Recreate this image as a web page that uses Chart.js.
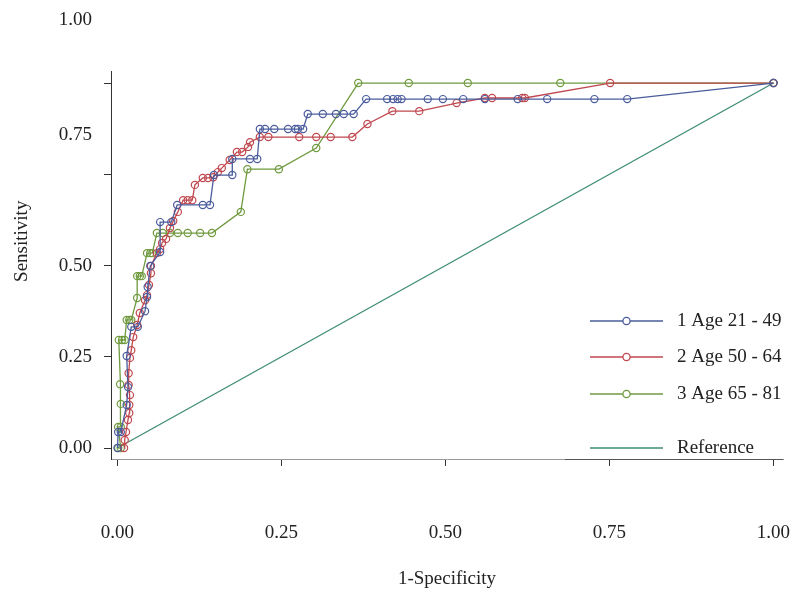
<!DOCTYPE html>
<html>
<head>
<meta charset="utf-8">
<script src="https://cdn.jsdelivr.net/npm/chart.js@4.4.1/dist/chart.umd.min.js"></script>
<style>
  html, body { margin: 0; padding: 0; background: #fff; }
  #wrap { width: 800px; height: 596px; }
</style>
</head>
<body>
<div id="wrap"><canvas id="roc"></canvas></div>
<script>
// tick values and labels
const xTicks = [0, 0.25, 0.5, 0.75, 1];
const yTicks = [0, 0.25, 0.5, 0.75, 1];
const seriesNames = ['1 Age 21 - 49', '2 Age 50 - 64', '3 Age 65 - 81', 'Reference'];

// group 1: age 21 - 49
const blueX = [0, 0.001, 0.005, 0.014, 0.016, 0.014, 0.021, 0.031, 0.042, 0.045, 0.046, 0.050, 0.065, 0.065,
  0.082, 0.091, 0.130, 0.141, 0.147, 0.175, 0.175, 0.202, 0.213, 0.217, 0.225, 0.239, 0.260, 0.271, 0.275,
  0.283, 0.290, 0.313, 0.333, 0.345, 0.360, 0.379, 0.411, 0.420, 0.427, 0.433, 0.473, 0.496, 0.527, 0.560,
  0.610, 0.655, 0.727, 0.777, 1.0];
const blueY = [0, 0.044, 0.044, 0.118, 0.167, 0.252, 0.332, 0.332, 0.375, 0.414, 0.441, 0.499, 0.537, 0.619,
  0.619, 0.666, 0.666, 0.666, 0.748, 0.748, 0.792, 0.792, 0.792, 0.874, 0.874, 0.874, 0.874, 0.874, 0.874,
  0.874, 0.915, 0.915, 0.915, 0.915, 0.915, 0.956, 0.956, 0.956, 0.956, 0.956, 0.956, 0.956, 0.956, 0.956,
  0.956, 0.956, 0.956, 0.956, 1.0];

// group 2: age 50 - 64
const redX = [0.010, 0.011, 0.013, 0.016, 0.018, 0.018, 0.019, 0.017, 0.017, 0.019, 0.021, 0.024, 0.030, 0.034,
  0.042, 0.045, 0.048, 0.051, 0.051, 0.060, 0.065, 0.068, 0.074, 0.080, 0.085, 0.092, 0.100, 0.107, 0.114,
  0.118, 0.130, 0.138, 0.146, 0.153, 0.159, 0.171, 0.182, 0.190, 0.199, 0.202, 0.217, 0.230, 0.277, 0.303,
  0.325, 0.358, 0.381, 0.419, 0.460, 0.517, 0.560, 0.571, 0.617, 0.621, 0.751, 1.0];
const redY = [0, 0.022, 0.044, 0.077, 0.096, 0.118, 0.145, 0.173, 0.205, 0.247, 0.268, 0.304, 0.337, 0.370,
  0.405, 0.419, 0.447, 0.479, 0.499, 0.534, 0.545, 0.562, 0.573, 0.603, 0.622, 0.647, 0.679, 0.679, 0.679,
  0.721, 0.740, 0.740, 0.742, 0.756, 0.767, 0.789, 0.811, 0.811, 0.825, 0.838, 0.852, 0.852, 0.852, 0.852,
  0.852, 0.852, 0.888, 0.923, 0.923, 0.945, 0.959, 0.959, 0.959, 0.959, 1.0, 1.0];

// group 3: age 65 - 81
const greenX = [0.001, 0.005, 0.001, 0.005, 0.005, 0.004, 0.002, 0.007, 0.011, 0.014, 0.018, 0.021, 0.030, 0.030,
  0.034, 0.037, 0.045, 0.050, 0.053, 0.060, 0.069, 0.080, 0.092, 0.107, 0.126, 0.144, 0.188, 0.198, 0.246,
  0.303, 0.367, 0.444, 0.534, 0.675, 1.0];
const greenY = [0, 0, 0.058, 0.058, 0.121, 0.175, 0.296, 0.296, 0.296, 0.351, 0.351, 0.351, 0.411, 0.471, 0.471,
  0.471, 0.534, 0.534, 0.534, 0.589, 0.589, 0.589, 0.589, 0.589, 0.589, 0.589, 0.647, 0.764, 0.764, 0.822,
  1.0, 1.0, 1.0, 1.0, 1.0];

// diagonal
const refX = [0, 1];
const refY = [0, 1];

const serif = '"Liberation Serif", "Times New Roman", serif';
const colors = ['#4a5c9c', '#c0484f', '#6f9a3e', '#3f8c72'];

function pts(xs, ys) {
  return xs.map((x, i) => ({ x: x, y: ys[i] }));
}

function rocSet(label, xs, ys, color) {
  return {
    label: label,
    data: pts(xs, ys),
    showLine: true,
    borderColor: color,
    borderWidth: 1.3,
    pointRadius: 3.6,
    pointBorderWidth: 1.2,
    pointBorderColor: color,
    pointBackgroundColor: 'rgba(255,255,255,0)',
    tension: 0
  };
}

// y labels 0.75 and 1.00 sit higher than their ticks in the original
const shiftedLabels = {
  id: 'shiftedLabels',
  afterDraw(chart, args, opts) {
    const y = chart.scales.y;
    const ctx = chart.ctx;
    ctx.save();
    ctx.font = '19px ' + serif;
    ctx.fillStyle = '#222';
    ctx.textAlign = 'right';
    ctx.textBaseline = 'middle';
    opts.items.forEach(it => {
      ctx.fillText(it.text, y.right - 19, y.getPixelForValue(it.at));
    });
    ctx.restore();
  }
};

const sideLegend = {
  id: 'sideLegend',
  afterDraw(chart, args, opts) {
    const ctx = chart.ctx;
    ctx.save();
    ctx.font = '19px ' + serif;
    ctx.textBaseline = 'middle';
    ctx.textAlign = 'left';
    chart.data.datasets.forEach((ds, i) => {
      const yy = opts.rows[i];
      ctx.strokeStyle = ds.borderColor;
      ctx.lineWidth = 1.3;
      ctx.beginPath();
      ctx.moveTo(opts.lineFrom, yy);
      ctx.lineTo(opts.lineTo, yy);
      ctx.stroke();
      if (ds.pointRadius > 0) {
        ctx.fillStyle = '#fff';
        ctx.beginPath();
        ctx.arc((opts.lineFrom + opts.lineTo) / 2, yy, 3.6, 0, Math.PI * 2);
        ctx.fill();
        ctx.stroke();
      }
      ctx.fillStyle = '#222';
      ctx.fillText(ds.label, opts.textX, yy);
    });
    // bottom edge of the legend box
    ctx.strokeStyle = '#555';
    ctx.lineWidth = 1;
    ctx.beginPath();
    ctx.moveTo(opts.boxLeft, chart.chartArea.bottom + 0.5);
    ctx.lineTo(chart.chartArea.right, chart.chartArea.bottom + 0.5);
    ctx.stroke();
    ctx.restore();
  }
};

const ctx = document.getElementById('roc').getContext('2d');
new Chart(ctx, {
  type: 'scatter',
  data: {
    datasets: [
      rocSet(seriesNames[0], blueX, blueY, colors[0]),
      rocSet(seriesNames[1], redX, redY, colors[1]),
      rocSet(seriesNames[2], greenX, greenY, colors[2]),
      {
        label: seriesNames[3],
        data: pts(refX, refY),
        showLine: true,
        borderColor: colors[3],
        borderWidth: 1.3,
        pointRadius: 0
      }
    ]
  },
  options: {
    responsive: true,
    maintainAspectRatio: false,
    animation: false,
    layout: { padding: { top: 71, right: 17, bottom: 0, left: 0 } },
    plugins: {
      legend: { display: false },
      tooltip: { enabled: false },
      shiftedLabels: {
        items: [{ text: '0.75', at: 0.858 }, { text: '1.00', at: 1.173 }]
      },
      sideLegend: { rows: [321, 357, 394, 448], lineFrom: 590, lineTo: 663, textX: 677, boxLeft: 565 }
    },
    scales: {
      x: {
        type: 'linear',
        min: -0.0099,
        max: 1.0145,
        afterBuildTicks: s => { s.ticks = xTicks.map(v => ({ value: v })); },
        afterFit: s => { s.height = 137; s.paddingLeft = 0; s.paddingRight = 0; },
        ticks: {
          callback: v => v.toFixed(2),
          font: { family: serif, size: 19 },
          color: '#222',
          padding: 56,
          maxRotation: 0,
          autoSkip: false
        },
        grid: { drawOnChartArea: false, tickLength: 7, color: '#333' },
        border: { color: '#999' },
        title: {
          display: true,
          text: '1-Specificity',
          font: { family: serif, size: 19 },
          color: '#222',
          padding: { top: 0, bottom: 6 }
        }
      },
      y: {
        type: 'linear',
        min: -0.030,
        max: 1.033,
        afterBuildTicks: s => { s.ticks = yTicks.map(v => ({ value: v })); },
        afterFit: s => { s.width = 111; s.paddingTop = 0; s.paddingBottom = 0; },
        ticks: {
          callback: v => (v < 0.7 ? v.toFixed(2) : ''),
          font: { family: serif, size: 19 },
          color: '#222',
          padding: 12
        },
        grid: { drawOnChartArea: false, tickLength: 7, color: '#333' },
        border: { color: '#333' },
        title: {
          display: true,
          // leading spaces lift the word to where it sits in the original
          text: '          Sensitivity',
          font: { family: serif, size: 19 },
          color: '#222',
          padding: { top: 11, bottom: 0 }
        }
      }
    }
  },
  plugins: [shiftedLabels, sideLegend]
});
</script>
</body>
</html>
